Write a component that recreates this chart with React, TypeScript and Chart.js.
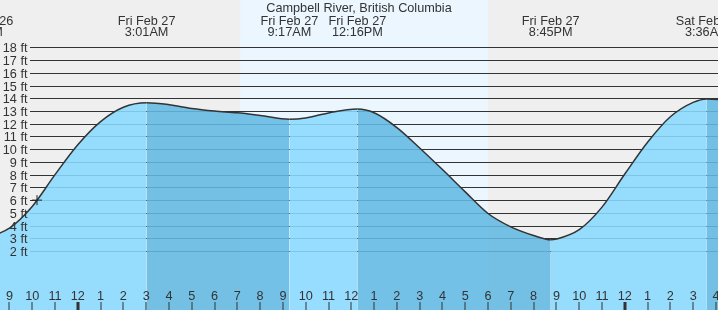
import React, { useEffect, useRef } from 'react';
import { Chart, registerables } from 'chart.js';

Chart.register(...registerables);

// Hours relative to midnight at the start of Fri Feb 27
const tideHours = [-4.25, -3, -2, -1, 0, 1, 2, 3.017, 4, 5, 6, 7, 8, 9.283, 10, 11, 12.267, 13, 14, 15, 16, 17, 18, 19, 20, 20.75, 21, 22, 23, 24, 25, 26, 27, 27.6, 34];
// Tide height in feet
const tideFeet = [2.9, 3.8, 5.5, 8.0, 10.35, 12.17, 13.3, 13.65, 13.5, 13.2, 13.0, 12.86, 12.65, 12.35, 12.45, 12.85, 13.15, 12.86, 11.7, 10.1, 8.4, 6.65, 4.95, 3.9, 3.22, 2.88, 2.94, 3.68, 5.45, 8.05, 10.55, 12.55, 13.68, 13.95, 9.5];

// High / low tide labels
const extremeHours = [-4.25, 3.017, 9.283, 12.267, 20.75, 27.6];
const extremeDays = ['Thu Feb 26', 'Fri Feb 27', 'Fri Feb 27', 'Fri Feb 27', 'Fri Feb 27', 'Sat Feb 28'];
const extremeTimes = ['7:45PM', '3:01AM', '9:17AM', '12:16PM', '8:45PM', '3:36AM'];

// Current time marker
const nowHour = [-1.79];
const nowFeet = [6.0];

// Daylight
const sunriseHour = 7.12;
const sunsetHour = 18.0;

// Axis ticks
const feetTicks = [2, 3, 4, 5, 6, 7, 8, 9, 10, 11, 12, 13, 14, 15, 16, 17, 18];
const hourTicks = Array.from({ length: 32 }, (_, i) => i - 3);

const title = 'Campbell River, British Columbia';

const FONT = '12.7px "Liberation Sans", Arial, sans-serif';
const TEXT = '#333';
const lightFill = 'rgba(138,217,255,0.88)';
const darkFill = 'rgba(99,186,228,0.88)';

function hourLabel(h: number) {
  const m = ((h % 12) + 12) % 12;
  return String(m === 0 ? 12 : m);
}

const tidePlugin = {
  id: 'tideDecor',
  beforeDatasetsDraw(chart: any) {
    const { ctx, chartArea: a, scales } = chart;
    const x = scales.x, y = scales.y;
    ctx.save();
    ctx.fillStyle = '#efefef';
    ctx.fillRect(a.left, a.top, a.right - a.left, a.bottom - a.top);
    const sx = x.getPixelForValue(sunriseHour);
    const ex = x.getPixelForValue(sunsetHour);
    ctx.fillStyle = '#ebf6ff';
    ctx.fillRect(sx, a.top, ex - sx, a.bottom - a.top);
    ctx.strokeStyle = '#333';
    ctx.lineWidth = 1;
    for (const f of feetTicks) {
      const py = Math.round(y.getPixelForValue(f)) + 0.5;
      ctx.beginPath();
      ctx.moveTo(30, py);
      ctx.lineTo(a.right, py);
      ctx.stroke();
    }
    ctx.restore();
  },
  afterDatasetsDraw(chart: any) {
    const { ctx, chartArea: a, scales } = chart;
    const x = scales.x, y = scales.y;
    ctx.save();
    ctx.font = FONT;
    ctx.fillStyle = TEXT;
    // y labels
    ctx.textAlign = 'right';
    ctx.textBaseline = 'alphabetic';
    for (const f of feetTicks) {
      const py = y.getPixelForValue(f);
      ctx.fillText(f + ' ft', 27.5, Math.round(py) + 5);
    }
    // hour labels and ticks
    ctx.textAlign = 'center';
    for (const h of hourTicks) {
      const px = x.getPixelForValue(h);
      ctx.fillText(hourLabel(h), px, 300);
      const midnight = ((h % 24) + 24) % 24 === 0;
      if (midnight) {
        ctx.fillRect(Math.round(px) - 1.5, 302, 3, a.bottom - 302);
      } else {
        ctx.fillRect(Math.round(px) - 0.5, 302, 1, a.bottom - 302);
      }
    }
    // extreme labels
    extremeHours.forEach((h, i) => {
      const px = x.getPixelForValue(h);
      ctx.fillText(extremeDays[i], px, 25);
      ctx.fillText(extremeTimes[i], px, 36);
    });
    // title
    ctx.fillText(title, (a.left + a.right) / 2, 12);
    ctx.restore();
  },
};

export default function App() {
  const ref = useRef<HTMLCanvasElement>(null);
  useEffect(() => {
    document.body.style.margin = '0';
    const chart = new Chart(ref.current as HTMLCanvasElement, {
      type: 'line',
      data: {
        datasets: [
          {
            type: 'scatter',
            data: nowHour.map((h, i) => ({ x: h, y: nowFeet[i] })),
            pointStyle: 'cross',
            pointRadius: 5,
            borderColor: '#222',
            borderWidth: 1,
            showLine: false,
          } as any,
          {
            data: tideHours.map((h, i) => ({ x: h, y: tideFeet[i] })),
            borderColor: '#333',
            borderWidth: 1.5,
            cubicInterpolationMode: 'monotone',
            pointRadius: 0,
            fill: 'start',
            backgroundColor: lightFill,
            segment: {
              backgroundColor: (c: any) => (c.p1.parsed.y < c.p0.parsed.y ? darkFill : lightFill),
            },
          } as any,
        ],
      },
      options: {
        responsive: false,
        devicePixelRatio: 1,
        animation: false,
        events: [],
        layout: { padding: 0, autoPadding: false },
        plugins: { legend: { display: false }, tooltip: { enabled: false } },
        scales: {
          x: { type: 'linear', min: -3.414, max: 28.09, display: false },
          y: { type: 'linear', min: -2.63, max: 21.72, display: false },
        },
      },
      plugins: [tidePlugin],
    });
    return () => chart.destroy();
  }, []);
  return (
    <div style={{ width: 718, height: 310 }}>
      <canvas ref={ref} width={718} height={310} style={{ display: 'block' }} />
    </div>
  );
}
